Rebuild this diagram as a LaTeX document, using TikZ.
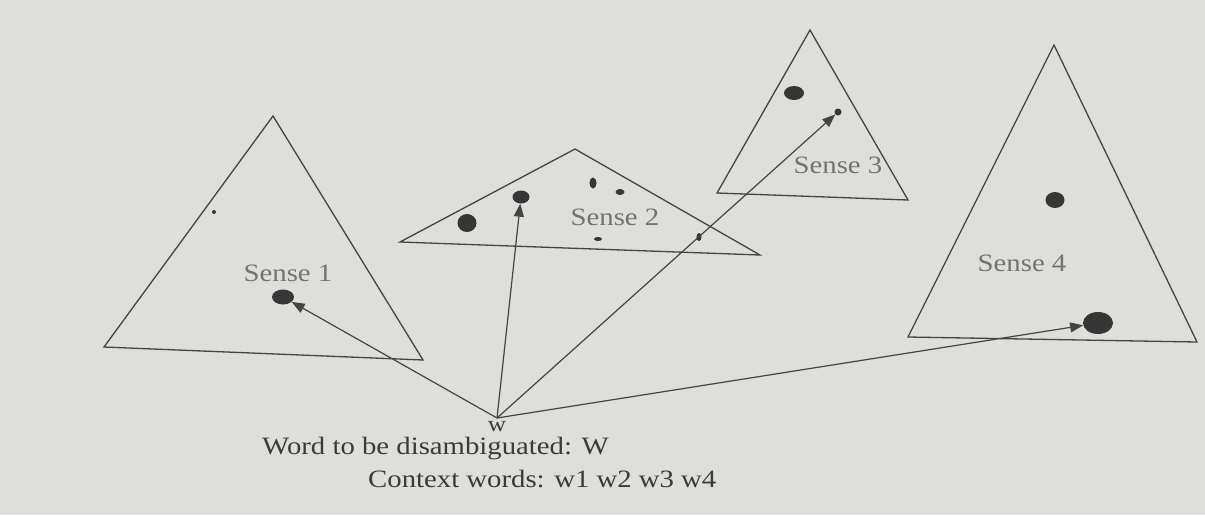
\documentclass[tikz,border=0pt]{standalone}
\usepackage{fontspec}
\setmainfont{Liberation Serif}[FakeStretch=1.15]
\usepackage{xcolor}
\usetikzlibrary{shapes.geometric, arrows.meta, positioning}
\definecolor{paper}{RGB}{222, 222, 219}
\definecolor{ink}{RGB}{68, 68, 68}

\begin{document}
\begin{tikzpicture}[
      x=1pt, y=-1pt,
      sensetri/.style={draw=ink, line width=1.3pt},
      blob/.style={ellipse, fill=ink!80!black, inner sep=0pt},
      pointer/.style={draw=ink, line width=1.2pt,
                      -{Triangle[length=13pt,width=10pt]}},
      sensetag/.style={font=\fontsize{25}{30}\selectfont,
                       text=ink!75, inner sep=0pt},
      caption/.style={font=\fontsize{25}{30}\selectfont,
                      text=ink!85!black, inner sep=0pt,
                      text height=16pt}
    ]
    \fill[paper] (0,0) rectangle (1205,515);

    % the four sense spaces
    \draw[sensetri] (273,116) -- (104,347) -- (423,360) -- cycle;
    \draw[sensetri] (575,149) -- (400,242) -- (760,255) -- cycle;
    \draw[sensetri] (810,30) -- (717,193) -- (908,200) -- cycle;
    \draw[sensetri] (1054,45) -- (908,337) -- (1197,342) -- cycle;

    \node[sensetag] (s1) at (288,273) {Sense 1};
    \node[sensetag] (s2) at (615,217) {Sense 2};
    \node[sensetag] (s3) at (838,165) {Sense 3};
    \node[sensetag] (s4) at (1022,263) {Sense 4};

    % points in each space
    \node[blob, minimum width=4pt, minimum height=4pt] (a1) at (214,212) {};
    \node[blob, minimum width=22pt, minimum height=15pt] (d1) at (283,297) {};
    \node[blob, minimum width=19pt, minimum height=18pt] (b1) at (467,223) {};
    \node[blob, minimum width=17pt, minimum height=13pt] (d2) at (521,197) {};
    \node[blob, minimum width=7pt, minimum height=11pt] (b2) at (593,183) {};
    \node[blob, minimum width=9pt, minimum height=6pt] (b3) at (620,192) {};
    \node[blob, minimum width=8pt, minimum height=4pt] (b4) at (598,239) {};
    \node[blob, minimum width=5pt, minimum height=8pt] (b5) at (699,237) {};
    \node[blob, minimum width=20pt, minimum height=14pt] (c1) at (794,93) {};
    \node[blob, minimum width=7pt, minimum height=7pt] (d3) at (838,112) {};
    \node[blob, minimum width=19pt, minimum height=16pt] (e1) at (1055,200) {};
    \node[blob, minimum width=30pt, minimum height=22pt] (d4) at (1098,323) {};

    % the word and its arrows
    \coordinate (w) at (497,418);
    \node[font=\fontsize{22}{26}\selectfont, text=ink!85!black,
          below=3pt of w, inner sep=0pt] (wtag) {w};
    \draw[pointer] (w) -- (d1);
    \draw[pointer] (w) -- (d2);
    \draw[pointer] (w) -- (d3);
    \draw[pointer] (w) -- (d4);

    \node[caption, anchor=base west] (c1txt) at (262,454)
      {Word to be disambiguated: W};
    \node[caption, anchor=base west] (c2txt) at (368,487)
      {Context words: w1 w2 w3 w4};
  \end{tikzpicture}
\end{document}
